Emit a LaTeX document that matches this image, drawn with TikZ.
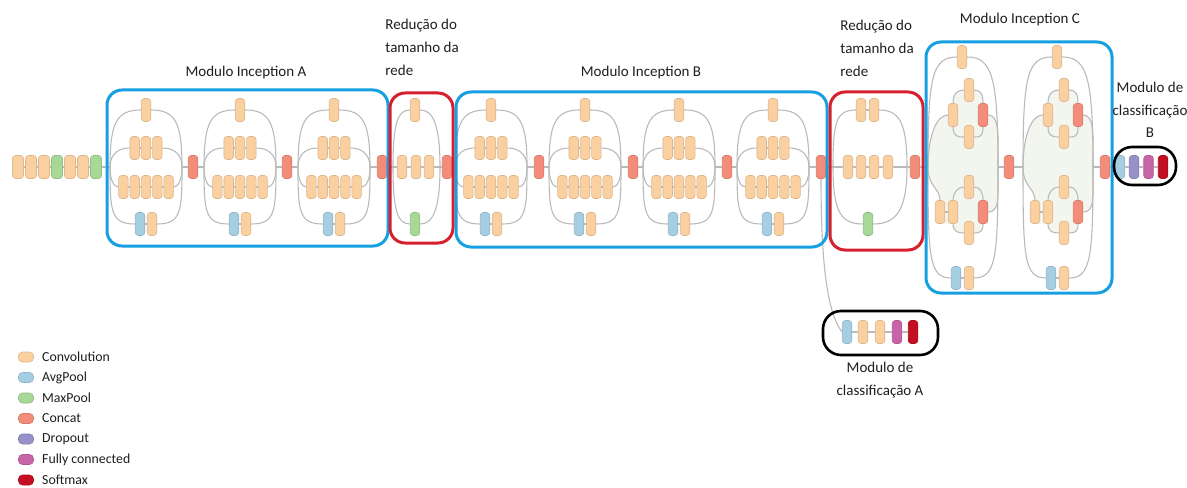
\documentclass[tikz,border=0pt]{standalone}
\usepackage{fontspec}
\setmainfont{Carlito}
\usetikzlibrary{positioning,backgrounds}
\definecolor{convc}{RGB}{250,208,160}
\definecolor{avgc}{RGB}{166,206,227}
\definecolor{maxc}{RGB}{168,216,150}
\definecolor{catc}{RGB}{244,140,122}
\definecolor{dropc}{RGB}{150,145,200}
\definecolor{fcc}{RGB}{200,100,168}
\definecolor{softc}{RGB}{196,14,34}
\definecolor{incblue}{RGB}{22,160,226}
\definecolor{redux}{RGB}{214,32,46}
\definecolor{tint}{RGB}{243,246,239}
\definecolor{ink}{RGB}{30,30,30}
\tikzset{
  blk/.style={draw=#1!88!black,fill=#1,rounded corners=1.5pt,line width=0.3pt,
    minimum width=4.75pt,minimum height=11.5pt,inner sep=0pt},
  blk/.default=convc,
  stem/.style={blk=#1,minimum width=5.5pt},
  wire/.style={draw=black!27,line width=0.55pt},
  grp/.style={draw=#1,line width=1.5pt,rounded corners=7.5pt},
  clsbox/.style={draw=black,line width=1.3pt,rounded corners=9pt},
  lbl/.style={font=\fontsize{7.5}{11.3}\selectfont,text=ink,inner sep=0pt},
  swatch/.style={draw=#1!88!black,fill=#1,rounded corners=2pt,line width=0.3pt,
    minimum width=7.5pt,minimum height=5pt,inner sep=0pt},
  lgtxt/.style={font=\fontsize{6.9}{8}\selectfont,text=ink,inner sep=0pt,anchor=west},
  % one inception block (A and B): four branches between in and out
  pics/incmod/.style={code={
    \coordinate (in) at (-36,0);
    \coordinate (out) at (36,0);
    \node[blk] (t) at (0,57) {};
    \foreach \x [count=\i] in {-11.3,0,11.3}
      \node[blk] (b\i) at (\x,19) {};
    \foreach \x [count=\i] in {-22.6,-11.3,0,11.3,22.6}
      \node[blk] (c\i) at (\x,-20) {};
    \node[blk=avgc] (p) at (-6,-57) {};
    \node[blk] (d) at (6,-57) {};
    \draw[wire] (in) .. controls +(0,45) and +(-24,0) .. (t.west);
    \draw[wire] (t.east) .. controls +(24,0) and +(0,45) .. (out);
    \draw[wire] (in) .. controls +(0,14) and +(-10,0) .. (b1.west);
    \draw[wire] (b1) -- (b2) -- (b3);
    \draw[wire] (b3.east) .. controls +(10,0) and +(0,14) .. (out);
    \draw[wire] (in) .. controls +(0,-14) and +(-4,0) .. (c1.west);
    \draw[wire] (c1) -- (c2) -- (c3) -- (c4) -- (c5);
    \draw[wire] (c5.east) .. controls +(4,0) and +(0,-14) .. (out);
    \draw[wire] (in) .. controls +(0,-45) and +(-24,0) .. (p.west);
    \draw[wire] (p) -- (d);
    \draw[wire] (d.east) .. controls +(24,0) and +(0,-45) .. (out);
  }},
  % inception block C with the two inner splits
  pics/incC/.style={code={
    \coordinate (in) at (-35,0);
    \coordinate (out) at (35,0);
    \node[blk] (t) at (-1,110) {};
    \node[blk=avgc] (p) at (-7,-111) {};
    \node[blk] (d) at (6,-111) {};
    % upper split
    \node[blk] (ul) at (-10,52) {};
    \node[blk] (ut) at (6,77) {};
    \node[blk] (ub) at (6,30) {};
    \node[blk=catc] (ur) at (20,52) {};
    % lower split
    \node[blk] (lx) at (-23,-45) {};
    \node[blk] (ll) at (-10,-45) {};
    \node[blk] (lt) at (6,-20) {};
    \node[blk] (lb) at (6,-66) {};
    \node[blk=catc] (lr) at (20,-45) {};
    \begin{scope}[on background layer]
      \fill[tint] (in) .. controls +(0,30) and +(-12,0) .. (ul.west) -- (ul.north)
        .. controls +(0,10) and +(-6,0) .. (ut.west) -- (ut.east)
        .. controls +(6,0) and +(0,10) .. (ur.north) -- (ur.east)
        .. controls +(12,0) and +(0,30) .. (out)
        .. controls +(0,-30) and +(12,0) .. (lr.east) -- (lr.south)
        .. controls +(0,-8) and +(6,0) .. (lb.east) -- (lb.west)
        .. controls +(-6,0) and +(0,-8) .. (ll.south) -- (lx.south) -- (lx.north)
        .. controls +(0,12) and +(0,-20) .. (in) -- cycle;
    \end{scope}
    \draw[wire] (in) .. controls +(0,90) and +(-25,0) .. (t.west);
    \draw[wire] (t.east) .. controls +(25,0) and +(0,90) .. (out);
    \draw[wire] (in) .. controls +(0,-90) and +(-22,0) .. (p.west);
    \draw[wire] (p) -- (d);
    \draw[wire] (d.east) .. controls +(22,0) and +(0,-90) .. (out);
    \draw[wire] (in) .. controls +(0,30) and +(-12,0) .. (ul.west);
    \draw[wire] (ul.north) .. controls +(0,10) and +(-6,0) .. (ut.west);
    \draw[wire] (ut.east) .. controls +(6,0) and +(0,10) .. (ur.north);
    \draw[wire] (ul.south) .. controls +(0,-10) and +(-6,0) .. (ub.west);
    \draw[wire] (ub.east) .. controls +(6,0) and +(0,-10) .. (ur.south);
    \draw[wire] (ur.east) .. controls +(12,0) and +(0,30) .. (out);
    \draw[wire] (in) .. controls +(0,-20) and +(0,12) .. (lx.north);
    \draw[wire] (lx) -- (ll);
    \draw[wire] (ll.north) .. controls +(0,8) and +(-6,0) .. (lt.west);
    \draw[wire] (lt.east) .. controls +(6,0) and +(0,8) .. (lr.north);
    \draw[wire] (ll.south) .. controls +(0,-8) and +(-6,0) .. (lb.west);
    \draw[wire] (lb.east) .. controls +(6,0) and +(0,-8) .. (lr.south);
    \draw[wire] (lr.east) .. controls +(12,0) and +(0,-30) .. (out);
  }},
}

\begin{document}
\begin{tikzpicture}[x=0.5pt,y=0.5pt]
\useasboundingbox (0,-320) rectangle (1187,167);

% stem
\foreach \c [count=\i] in {convc,convc,convc,maxc,convc,convc,maxc}
  \node[stem=\c] (s\i) at (5+13*\i,0) {};
\draw[wire] (s1) -- (s2) -- (s3) -- (s4) -- (s5) -- (s6) -- (s7);

% inception blocks
\foreach \m/\x in {A1/146,A2/240,A3/334,B1/491,B2/585,B3/679,B4/773}
  \pic (\m-) at (\x,0) {incmod};
\pic (C1-) at (963,0) {incC};
\pic (C2-) at (1058,0) {incC};

% concat after each block
\foreach \m/\x in {A1/193,A2/287,A3/382,B1/539,B2/633,B3/727,B4/821,C1/1009,C2/1105,RA/447,RB/915}
  \node[blk=catc] (c\m) at (\x,0) {};

% grid size reduction A
\coordinate (RA-in) at (393,0);
\coordinate (RA-out) at (440,0);
\node[blk] (RA-t) at (415,57) {};
\foreach \x [count=\i] in {402,416,429}
  \node[blk] (RA-m\i) at (\x,0) {};
\node[blk=maxc] (RA-g) at (415,-57) {};
\draw[wire] (RA-in) .. controls +(0,45) and +(-12,0) .. (RA-t.west);
\draw[wire] (RA-t.east) .. controls +(12,0) and +(0,45) .. (RA-out);
\draw[wire] (RA-in) .. controls +(0,-45) and +(-12,0) .. (RA-g.west);
\draw[wire] (RA-g.east) .. controls +(12,0) and +(0,-45) .. (RA-out);
\draw[wire] (RA-in) -- (RA-m1) -- (RA-m2) -- (RA-m3) -- (RA-out);

% grid size reduction B
\coordinate (RB-in) at (833,0);
\coordinate (RB-out) at (907,0);
\node[blk] (RB-t1) at (861,57) {};
\node[blk] (RB-t2) at (874,57) {};
\foreach \x [count=\i] in {848,861,874,888}
  \node[blk] (RB-m\i) at (\x,0) {};
\node[blk=maxc] (RB-g) at (868,-57) {};
\draw[wire] (RB-in) .. controls +(0,45) and +(-20,0) .. (RB-t1.west);
\draw[wire] (RB-t1) -- (RB-t2);
\draw[wire] (RB-t2.east) .. controls +(20,0) and +(0,45) .. (RB-out);
\draw[wire] (RB-in) .. controls +(0,-45) and +(-22,0) .. (RB-g.west);
\draw[wire] (RB-g.east) .. controls +(22,0) and +(0,-45) .. (RB-out);
\draw[wire] (RB-in) -- (RB-m1) -- (RB-m2) -- (RB-m3) -- (RB-m4) -- (RB-out);

% auxiliary classifier
\foreach \c/\x [count=\i] in {avgc/847,convc/863,convc/880,fcc/897,softc/913}
  \node[blk=\c] (xa\i) at (\x,-165) {};
\draw[wire] (xa1) -- (xa2) -- (xa3) -- (xa4) -- (xa5);
\draw[wire] (cB4.south) .. controls +(0,-110) and +(-10,14) .. (xa1.west);

% final classifier
\foreach \c/\x [count=\i] in {avgc/1120,dropc/1134,fcc/1148.5,softc/1163}
  \node[blk=\c] (xb\i) at (\x,0) {};
\draw[wire] (xb1) -- (xb2) -- (xb3) -- (xb4);

% main path
\draw[wire] (s7) -- (A1-in);
\foreach \a/\b in {A1/A2,A2/A3,B1/B2,B2/B3,B3/B4,C1/C2}
  \draw[wire] (\a-out) -- (c\a) -- (\b-in);
\draw[wire] (A3-out) -- (cA3) -- (RA-in);
\draw[wire] (RA-out) -- (cRA) -- (B1-in);
\draw[wire] (B4-out) -- (cB4) -- (RB-in);
\draw[wire] (RB-out) -- (cRB) -- (C1-in);
\draw[wire] (C2-out) -- (cC2) -- (xb1);

% frames
\draw[grp=incblue] (107,77) rectangle (388,-79);
\draw[grp=redux] (390,74) rectangle (453,-76);
\draw[grp=incblue] (456,75) rectangle (827,-80);
\draw[grp=redux] (830,75) rectangle (923,-83);
\draw[grp=incblue] (926,125) rectangle (1112,-126);
\draw[clsbox] (823,-144) rectangle (938,-188);
\draw[clsbox] (1114,-18) rectangle (1176,20);

% captions
\node[lbl] (tA) at (246,94) {Modulo Inception A};
\node[lbl] (tB) at (641,94) {Modulo Inception B};
\node[lbl] (tC) at (1020,147) {Modulo Inception C};
\node[lbl,align=left,anchor=north west] (tRA) at (385,148) {Redução do\\tamanho da\\rede};
\node[lbl,align=left,anchor=north west] (tRB) at (840,147) {Redução do\\tamanho da\\rede};
\node[lbl,align=center] (tXA) at (880,-213) {Modulo de\\classificação A};
\node[lbl,align=center] (tXB) at (1150,57) {Modulo de\\classificação\\B};

% legend
\foreach \c/\t [count=\i] in {convc/Convolution,avgc/AvgPool,maxc/MaxPool,catc/Concat,dropc/Dropout,fcc/Fully connected,softc/Softmax} {
  \node[swatch=\c] (lg\i) at (26,-169.5-20.5*\i) {};
  \node[lgtxt,right=4pt of lg\i] (lt\i) {\t};
}
\end{tikzpicture}
\end{document}
